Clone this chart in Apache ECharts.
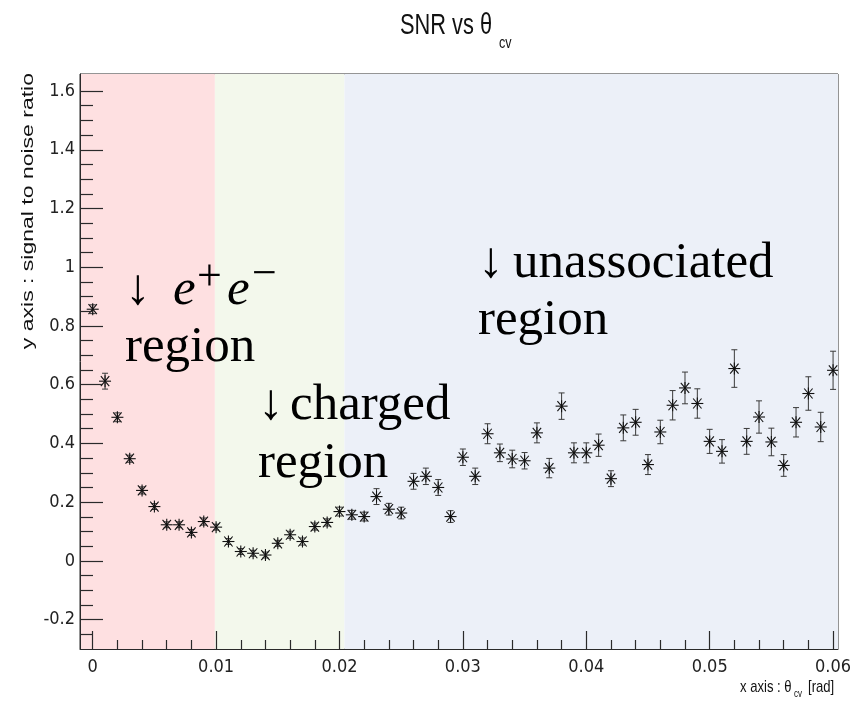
<!DOCTYPE html>
<html>
<head>
<meta charset="utf-8">
<script src="https://cdn.jsdelivr.net/npm/echarts@6/dist/echarts.min.js"></script>
<style>
html,body{margin:0;padding:0;background:#fff;}
#chart{width:858px;height:701px;}
</style>
</head>
<body>
<div id="chart"></div>
<script>
// ---- data ----
const thetaValues = [0, 0.001, 0.002, 0.003, 0.004, 0.005, 0.006, 0.007, 0.008, 0.009,
  0.010, 0.011, 0.012, 0.013, 0.014, 0.015, 0.016, 0.017, 0.018, 0.019,
  0.020, 0.021, 0.022, 0.023, 0.024, 0.025, 0.026, 0.027, 0.028, 0.029,
  0.030, 0.031, 0.032, 0.033, 0.034, 0.035, 0.036, 0.037, 0.038, 0.039,
  0.040, 0.041, 0.042, 0.043, 0.044, 0.045, 0.046, 0.047, 0.048, 0.049,
  0.050, 0.051, 0.052, 0.053, 0.054, 0.055, 0.056, 0.057, 0.058, 0.059, 0.060];
const snrValues = [0.857, 0.612, 0.489, 0.348, 0.240, 0.185, 0.123, 0.123, 0.097, 0.134,
  0.115, 0.066, 0.032, 0.026, 0.020, 0.060, 0.089, 0.066, 0.117, 0.131,
  0.168, 0.157, 0.151, 0.219, 0.176, 0.163, 0.271, 0.288, 0.250, 0.151,
  0.353, 0.288, 0.433, 0.368, 0.347, 0.341, 0.436, 0.316, 0.527, 0.368,
  0.368, 0.394, 0.280, 0.453, 0.472, 0.328, 0.439, 0.530, 0.589, 0.536,
  0.407, 0.373, 0.655, 0.407, 0.490, 0.405, 0.325, 0.472, 0.570, 0.456, 0.649];
const snrErrors = [0.015, 0.027, 0.015, 0.012, 0.012, 0.010, 0.010, 0.010, 0.010, 0.012,
  0.010, 0.010, 0.010, 0.010, 0.010, 0.010, 0.012, 0.012, 0.012, 0.012,
  0.015, 0.015, 0.015, 0.027, 0.020, 0.020, 0.027, 0.028, 0.027, 0.020,
  0.028, 0.028, 0.034, 0.030, 0.030, 0.028, 0.034, 0.033, 0.045, 0.034,
  0.034, 0.038, 0.027, 0.044, 0.044, 0.034, 0.040, 0.050, 0.054, 0.050,
  0.041, 0.040, 0.064, 0.044, 0.055, 0.047, 0.037, 0.050, 0.057, 0.050, 0.065];

const xMajorTicks = [0, 0.01, 0.02, 0.03, 0.04, 0.05, 0.06];
const xMinorTicks = [0.002, 0.004, 0.006, 0.008, 0.012, 0.014, 0.016, 0.018,
  0.022, 0.024, 0.026, 0.028, 0.032, 0.034, 0.036, 0.038,
  0.042, 0.044, 0.046, 0.048, 0.052, 0.054, 0.056, 0.058];
const yMajorTicks = [-0.2, 0, 0.2, 0.4, 0.6, 0.8, 1, 1.2, 1.4, 1.6];
const yMinorTicks = [-0.25, -0.15, -0.1, -0.05, 0.05, 0.1, 0.15, 0.25, 0.3, 0.35,
  0.45, 0.5, 0.55, 0.65, 0.7, 0.75, 0.85, 0.9, 0.95, 1.05, 1.1, 1.15,
  1.25, 1.3, 1.35, 1.45, 1.5, 1.55];

const regionBounds = [-0.00103, 0.0099, 0.0204, 0.0604];
const regionColors = ['#fee0e1', '#f3f8ec', '#ecf0f8'];

const X_MIN = -0.00103, X_MAX = 0.0604, Y_MIN = -0.3, Y_MAX = 1.658;

// ---- chart ----
const chart = echarts.init(document.getElementById('chart'), null, {renderer: 'canvas'});
const SANS_N = "'Liberation Sans Narrow', 'DejaVu Sans Condensed', 'Roboto Condensed', 'Liberation Sans', sans-serif";
const SANS = "'Liberation Sans', Arial, sans-serif";
const SERIF = "'Liberation Serif', 'DejaVu Serif', serif";
const AX = '#2a2a2a';
const gridRect = {left: 80, right: 20, top: 74, bottom: 52};
const fmt = v => String(parseFloat(Number(v).toFixed(3)));

const seriesData = thetaValues.map((x, i) => [x, snrValues[i], snrErrors[i]]);

// minor-tick overlay axes: same pixel scale, shifted so their zero lies on the frame edge
const xMinorShifted = xMinorTicks.map(v => v - X_MIN);
const yMinorShifted = yMinorTicks.map(v => v - Y_MIN);

function renderItem(params, api) {
  const x = api.value(0), y = api.value(1), e = api.value(2);
  const p = api.coord([x, y]);
  const pt = api.coord([x, y + e]);
  const pb = api.coord([x, y - e]);
  const r = 6, dx = 4.2, dy = 5, cw = 3;
  const ln = (x1, y1, x2, y2, stroke, lw) => ({type: 'line', shape: {x1, y1, x2, y2}, style: {stroke, lineWidth: lw}});
  return {type: 'group', children: [
    ln(p[0], pt[1], p[0], pb[1], '#3a3a3a', 1),
    ln(p[0] - cw, pt[1], p[0] + cw, pt[1], '#3a3a3a', 1),
    ln(p[0] - cw, pb[1], p[0] + cw, pb[1], '#3a3a3a', 1),
    ln(p[0] - r, p[1], p[0] + r, p[1], '#111', 1.1),
    ln(p[0], p[1] - r, p[0], p[1] + r, '#111', 1.1),
    ln(p[0] - dx, p[1] - dy, p[0] + dx, p[1] + dy, '#111', 1.1),
    ln(p[0] - dx, p[1] + dy, p[0] + dx, p[1] - dy, '#111', 1.1)
  ]};
}

const areas = regionColors.map((c, i) => [
  {xAxis: regionBounds[i], itemStyle: {color: c, opacity: 1}},
  {xAxis: regionBounds[i + 1]}
]);

function txt(text, x, y, opts) {
  return Object.assign({type: 'text', x: x, y: y, z: 100, silent: true,
    style: Object.assign({text: text, fill: '#000', align: 'left', verticalAlign: 'middle'}, opts.style || {})},
    opts.el || {});
}

const serifBig = {fontFamily: SERIF, fontSize: 51};
const serifIt = {fontFamily: SERIF, fontSize: 51, fontStyle: 'italic'};
const serifSup = {fontFamily: SERIF, fontSize: 44};

const option = {
  animation: false,
  backgroundColor: '#fff',
  grid: [
    Object.assign({show: true, borderColor: AX, borderWidth: 1, backgroundColor: 'transparent', z: 0}, gridRect),
    Object.assign({show: false}, gridRect)
  ],
  xAxis: [
    {type: 'value', gridIndex: 0, min: X_MIN, max: X_MAX, position: 'bottom', z: 50,
     axisLine: {show: true, onZero: false, lineStyle: {color: AX, width: 1}},
     axisTick: {show: true, inside: true, length: 18, customValues: xMajorTicks, lineStyle: {color: AX, width: 1.2}},
     axisLabel: {show: true, customValues: xMajorTicks, formatter: fmt, fontSize: 18, color: '#222', fontFamily: SANS_N, margin: 9},
     splitLine: {show: false}},
    {type: 'value', gridIndex: 1, min: 0, max: X_MAX - X_MIN, position: 'bottom', z: 50,
     axisLine: {show: false, onZero: true},
     axisTick: {show: true, inside: true, length: 9, customValues: xMinorShifted, lineStyle: {color: AX, width: 1.2}},
     axisLabel: {show: false},
     splitLine: {show: false}}
  ],
  yAxis: [
    {type: 'value', gridIndex: 0, min: Y_MIN, max: Y_MAX, position: 'left', z: 50,
     axisLine: {show: true, onZero: false, lineStyle: {color: AX, width: 1}},
     axisTick: {show: true, inside: true, length: 23, customValues: yMajorTicks, lineStyle: {color: AX, width: 1.2}},
     axisLabel: {show: true, customValues: yMajorTicks, formatter: fmt, fontSize: 18, color: '#222', fontFamily: SANS_N, margin: 5},
     splitLine: {show: false}},
    {type: 'value', gridIndex: 1, min: 0, max: Y_MAX - Y_MIN, position: 'left', z: 50,
     axisLine: {show: false, onZero: true},
     axisTick: {show: true, inside: true, length: 13, customValues: yMinorShifted, lineStyle: {color: AX, width: 1.2}},
     axisLabel: {show: false},
     splitLine: {show: false}}
  ],
  series: [
    {type: 'custom', name: 'SNR', xAxisIndex: 0, yAxisIndex: 0, renderItem: renderItem,
     data: seriesData, clip: true, z: 3,
     markArea: {silent: true, z: 1, data: areas}}
  ],
  graphic: {
    elements: [
    // title
    txt('SNR vs θ', 400, 26, {style: {fontFamily: SANS, fontSize: 30, fill: '#111'}, el: {scaleX: 0.727}}),
    txt('cv', 499, 43, {style: {fontFamily: SANS, fontSize: 17, fill: '#111'}, el: {scaleX: 0.74}}),
    // x axis title
    txt('x axis : θ', 740, 687, {style: {fontFamily: SANS, fontSize: 17, fill: '#111'}, el: {scaleX: 0.77}}),
    txt('cv', 794, 694, {style: {fontFamily: SANS, fontSize: 10, fill: '#111'}, el: {scaleX: 0.8}}),
    txt('[rad]', 808, 687, {style: {fontFamily: SANS, fontSize: 17, fill: '#111'}, el: {scaleX: 0.77}}),
    // y axis title (rotated)
    txt('y axis : signal to noise ratio', 28, 73, {style: {fontFamily: SANS, fontSize: 23, fill: '#111', align: 'right'}, el: {rotation: Math.PI / 2, scaleY: 0.74}}),
    // region annotations
    txt('↓', 125, 291, {style: serifBig}),
    txt('e', 173, 291, {style: serifIt}),
    txt('+', 197, 278, {style: serifSup}),
    txt('e', 227, 291, {style: serifIt}),
    txt('−', 252, 275, {style: serifSup}),
    txt('region', 125, 348, {style: serifBig}),
    txt('↓', 258, 406, {style: serifBig}),
    txt('charged', 290, 406, {style: serifBig}),
    txt('region', 258, 464, {style: serifBig}),
    txt('↓', 478, 264, {style: serifBig}),
    txt('unassociated', 513, 264, {style: serifBig}),
    txt('region', 478, 321, {style: serifBig})
    ]
  }
};
chart.setOption(option);
</script>
</body>
</html>
